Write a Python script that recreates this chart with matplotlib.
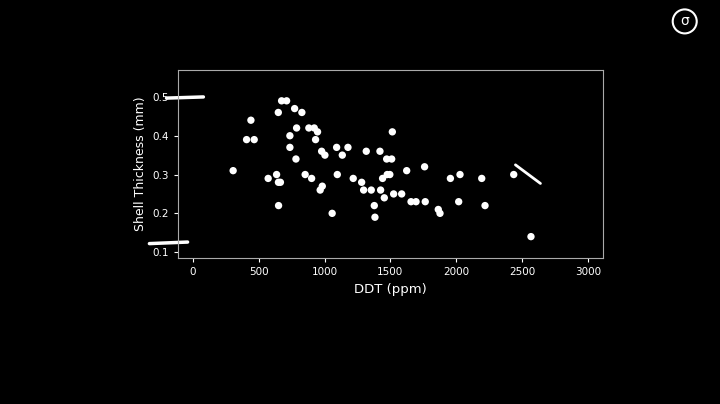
import matplotlib
matplotlib.use("Agg")
import matplotlib.pyplot as plt
from matplotlib.patches import Ellipse

ddt = [306,441,408,466,572,636,650,665,651,649,674,712,773,828,788,737,737,783,881,922,947,932,978,1003,
       853,902,983,967,1058,1092,1135,1178,1097,1218,1282,1297,1355,1426,1317,1421,1472,1510,1515,1378,1383,
       1454,1441,1476,1496,1525,1586,1624,1657,1695,1760,1765,1864,1877,1956,2029,2019,2194,2219,2437,2568]
thick = [0.31,0.44,0.39,0.39,0.29,0.30,0.28,0.28,0.22,0.46,0.49,0.49,0.47,0.46,0.42,0.40,0.37,0.34,0.42,0.42,
         0.41,0.39,0.36,0.35,0.30,0.29,0.27,0.26,0.20,0.37,0.35,0.37,0.30,0.29,0.28,0.26,0.26,0.26,0.36,0.36,
         0.34,0.34,0.41,0.22,0.19,0.24,0.29,0.30,0.30,0.25,0.25,0.31,0.23,0.23,0.32,0.23,0.21,0.20,0.29,0.30,
         0.23,0.29,0.22,0.30,0.14]
xticks = [0,500,1000,1500,2000,2500,3000]
yticks = [0.1,0.2,0.3,0.4,0.5]

fig = plt.figure(figsize=(7.2,4.04), dpi=100, facecolor="black")
ax = fig.add_axes([0.247,0.361,0.5905,0.466], facecolor="black")
ax.scatter(ddt, thick, s=28, color="white", edgecolors="none", zorder=3)
ax.set_xlim(-114,3115); ax.set_ylim(0.0845,0.5697)
ax.set_xticks(xticks); ax.set_yticks(yticks)
ax.set_xticklabels([str(t) for t in xticks]); ax.set_yticklabels([f"{t:.1f}" for t in yticks])
for s in ax.spines.values():
    s.set_color("#aaaaaa"); s.set_linewidth(0.8)
ax.tick_params(colors="white", labelsize=7.5, length=3)
ax.set_xlabel("DDT (ppm)", color="white", fontsize=9.5)
ax.set_ylabel("Shell Thickness (mm)", color="white", fontsize=9)
ax.plot([-200,80],[0.497,0.500], color="white", lw=2.5, clip_on=False, solid_capstyle="round")
ax.plot([-330,-40],[0.122,0.126], color="white", lw=2.5, clip_on=False, solid_capstyle="round")
ax.plot([2450,2640],[0.325,0.277], color="white", lw=2, clip_on=False, solid_capstyle="round")
fig.patches.append(Ellipse((0.951,0.947), 24/720, 24/404, transform=fig.transFigure, fill=False, ec="white", lw=1.5))
fig.text(0.951,0.947,"σ", color="white", ha="center", va="center", fontsize=10)
fig.savefig("out.png", facecolor="black")
